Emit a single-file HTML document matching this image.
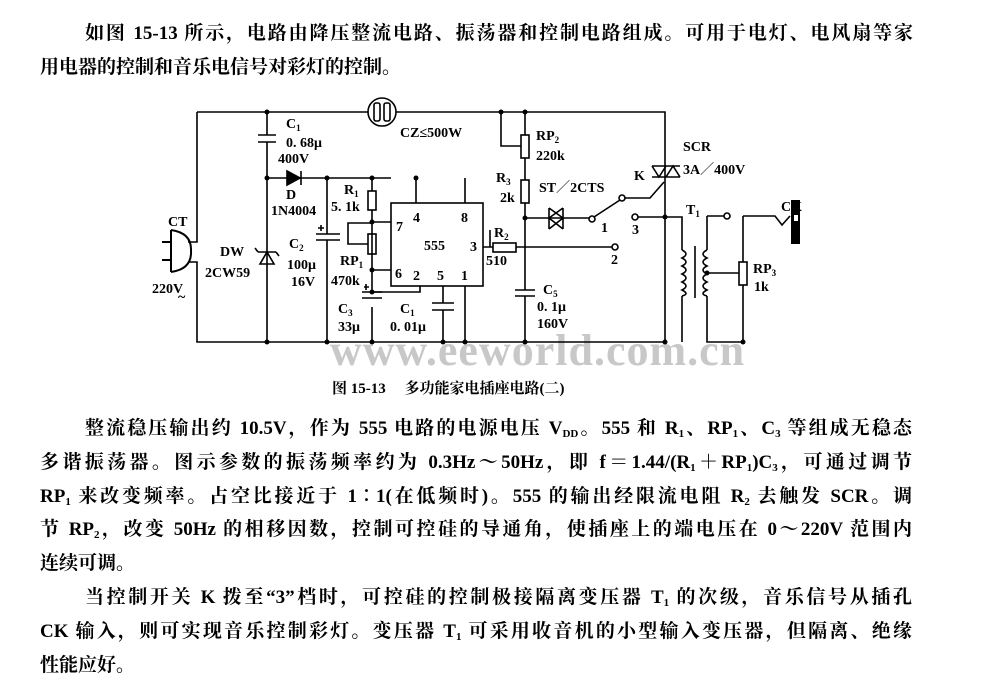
<!DOCTYPE html>
<html><head><meta charset="utf-8"><style>
html,body{margin:0;padding:0;background:#fff;width:992px;height:678px;overflow:hidden;position:relative}
.t{position:absolute;font-family:"Liberation Serif","Noto Serif CJK SC",serif;font-weight:bold;font-size:19px;color:#000;white-space:nowrap;text-align:justify;text-align-last:justify;line-height:24px}
.t sub{font-size:11px;vertical-align:-3px;line-height:0}
svg{position:absolute;left:0;top:0}
svg text{font-family:"Liberation Serif","Noto Serif CJK SC",serif;font-weight:bold;font-size:14px;fill:#000}
</style></head><body>
<div class="t" style="left:85px;top:22px;width:828px">如图 15-13 所示，电路由降压整流电路、振荡器和控制电路组成。可用于电灯、电风扇等家</div>
<div class="t" style="left:40px;top:56px;text-align-last:left">用电器的控制和音乐电信号对彩灯的控制。</div>

<svg width="992" height="678" viewBox="0 0 992 678">
<text x="330" y="365" style="font-size:44px;fill:#c8c8c8;letter-spacing:1px">www.eeworld.com.cn</text>
<g stroke="#000" stroke-width="1.6" fill="none">
<path d="M197 112 H368 M396 112 H665 V342"/>
<circle cx="382" cy="112" r="14"/>
<rect x="374" y="103" width="6" height="18" rx="2"/><rect x="384" y="103" width="6" height="18" rx="2"/>
<!-- left / CT plug -->
<path d="M197 112 V242 H188 M188 262 H197 V342 H665"/>
<path d="M171 230 V272 M171 230 Q192 233 191 251 Q192 269 171 272" stroke-width="2"/>
<path d="M162 242 H171 M162 260 H171" stroke-width="2"/>
<path d="M267 112 V135 M258 135 H276 M258 142 H276 M267 142 V342"/>
<path d="M267 178 H391"/>
<path d="M287 171 V185 L300 178 Z" fill="#000"/><path d="M301 171 V185"/>
<path d="M258 252 H276 M258 252 l-3 -4 M276 252 l3 4 M267 252 L260 264 H274 Z"/>
<path d="M327 178 V234 M316 234 H340 M316 240 H340 M327 240 V342 M318 228 h6 M321 225 v6"/>
<path d="M372 178 V191 M372 210 V292 M372 307 V342"/>
<rect x="368" y="191" width="8" height="19"/>
<rect x="368" y="234" width="8" height="20"/>
<path d="M372 222 H391 M372 270 H391 M372 292 H420 V286"/>
<path d="M368 244 H348 V223 H372"/>
<path d="M362 292 H382 M362 298 H382 M364 287 h5 M366 284 v6"/>
<path d="M416 178 V203 M465 178 V203"/>
<rect x="391" y="203" width="92" height="83"/>
<path d="M443 286 V303 M432 303 H454 M432 310 H454 M443 310 V342 M465 286 V342"/>
<path d="M483 247 H493 M516 247 H612"/>
<rect x="493" y="243" width="23" height="9"/>
<path d="M490 247 V230" />
<path d="M501 112 V146 H521 M525 112 V135 M525 158 V180 M525 203 V290 M525 296 V342"/>
<rect x="521" y="135" width="8" height="23"/>
<rect x="521" y="180" width="8" height="23"/>
<path d="M515 290 H535 M515 296 H535"/>
<path d="M525 218 H589"/>
<path d="M549 208 V229 M549 208 L563 218 L549 229 M563 208 V229 M563 208 L549 218 L563 229" />
<circle cx="592" cy="219" r="3"/><circle cx="615" cy="247" r="3"/><circle cx="635" cy="217" r="3"/><circle cx="622" cy="198" r="3"/>
<path d="M594 217 L620 200 M625 198 H650 L664 182"/>
<path d="M638 217 H682 V250 M682 296 V342"/>
<path d="M682 250 q8 4 0 8 q8 4 0 8 q8 4 0 8 q8 4 0 8 q8 4 0 8 q8 4 0 6"/>
<path d="M695 246 V298"/>
<path d="M707 216 H724 M707 216 V250 M707 296 V342 H743"/>
<path d="M707 250 q-8 4 0 8 q-8 4 0 8 q-8 4 0 8 q-8 4 0 8 q-8 4 0 8 q-8 4 0 6"/>
<circle cx="727" cy="216" r="3"/>
<path d="M707 273 H739"/>
<rect x="739" y="262" width="8" height="23"/>
<path d="M743 216 V262 M743 285 V342 M743 216 H775 L782 225 L790 216"/>
<path d="M652 166 H680 M652 177 H680 M652 166 L659 177 L666 166 M666 177 L673 166 L680 177"/>
</g>
<rect x="791" y="200" width="9" height="44" fill="#000"/><rect x="794" y="215" width="4" height="6" fill="#fff"/>
<g fill="#000">
<circle cx="267" cy="112" r="2.5"/><circle cx="267" cy="178" r="2.5"/><circle cx="327" cy="178" r="2.5"/><circle cx="372" cy="178" r="2.5"/><circle cx="416" cy="178" r="2.5"/>
<circle cx="372" cy="222" r="2.5"/><circle cx="372" cy="270" r="2.5"/><circle cx="372" cy="292" r="2.5"/>
<circle cx="267" cy="342" r="2.5"/><circle cx="327" cy="342" r="2.5"/><circle cx="372" cy="342" r="2.5"/><circle cx="443" cy="342" r="2.5"/><circle cx="465" cy="342" r="2.5"/>
<circle cx="501" cy="112" r="2.5"/><circle cx="525" cy="112" r="2.5"/><circle cx="525" cy="218" r="2.5"/><circle cx="525" cy="342" r="2.5"/><circle cx="665" cy="342" r="2.5"/><circle cx="665" cy="217" r="2.5"/><circle cx="707" cy="273" r="2.5"/><circle cx="743" cy="342" r="2.5"/>
</g>
<text x="286" y="128">C<tspan font-size="9" dy="3">1</tspan></text>
<text x="286" y="147">0. 68μ</text>
<text x="278" y="163">400V</text>
<text x="400" y="137">CZ≤500W</text>
<text x="286" y="199">D</text>
<text x="271" y="215">1N4004</text>
<text x="168" y="226">CT</text>
<text x="220" y="256">DW</text>
<text x="205" y="277">2CW59</text>
<text x="152" y="293">220V</text><text x="178" y="301">~</text>
<text x="289" y="248">C<tspan font-size="9" dy="3">2</tspan></text>
<text x="287" y="269">100μ</text>
<text x="291" y="286">16V</text>
<text x="344" y="194">R<tspan font-size="9" dy="3">1</tspan></text>
<text x="331" y="211">5. 1k</text>
<text x="340" y="265">RP<tspan font-size="9" dy="3">1</tspan></text>
<text x="331" y="285">470k</text>
<text x="338" y="313">C<tspan font-size="9" dy="3">3</tspan></text>
<text x="338" y="331">33μ</text>
<text x="400" y="313">C<tspan font-size="9" dy="3">1</tspan></text>
<text x="390" y="331">0. 01μ</text>
<text x="396" y="231">7</text><text x="413" y="222">4</text><text x="461" y="222">8</text>
<text x="424" y="250">555</text><text x="470" y="251">3</text>
<text x="395" y="278">6</text><text x="413" y="280">2</text><text x="437" y="280">5</text><text x="461" y="280">1</text>
<text x="536" y="140">RP<tspan font-size="9" dy="3">2</tspan></text>
<text x="536" y="160">220k</text>
<text x="496" y="182">R<tspan font-size="9" dy="3">3</tspan></text>
<text x="500" y="202">2k</text>
<text x="539" y="192">ST／2CTS</text>
<text x="634" y="180">K</text>
<text x="683" y="151">SCR</text>
<text x="683" y="174">3A／400V</text>
<text x="494" y="237">R<tspan font-size="9" dy="3">2</tspan></text>
<text x="486" y="265">510</text>
<text x="601" y="232">1</text><text x="611" y="264">2</text><text x="632" y="234">3</text>
<text x="543" y="294">C<tspan font-size="9" dy="3">5</tspan></text>
<text x="537" y="311">0. 1μ</text>
<text x="537" y="328">160V</text>
<text x="686" y="214">T<tspan font-size="9" dy="3">1</tspan></text>
<text x="781" y="211">CK</text>
<text x="753" y="273">RP<tspan font-size="9" dy="3">3</tspan></text>
<text x="754" y="291">1k</text>
<text x="332" y="393" style="font-size:15px">图 15-13　 多功能家电插座电路(二)</text>
</svg>

<div class="t" style="left:85px;top:417px;width:827px">整流稳压输出约 10.5V，作为 555 电路的电源电压 V<sub>DD</sub>。555 和 R<sub>1</sub>、RP<sub>1</sub>、C<sub>3</sub> 等组成无稳态</div>
<div class="t" style="left:40px;top:451px;width:872px">多谐振荡器。图示参数的振荡频率约为 0.3Hz～50Hz，即 f＝1.44/(R<sub>1</sub>＋RP<sub>1</sub>)C<sub>3</sub>，可通过调节</div>
<div class="t" style="left:40px;top:485px;width:872px">RP<sub>1</sub> 来改变频率。占空比接近于 1∶1(在低频时)。555 的输出经限流电阻 R<sub>2</sub> 去触发 SCR。调</div>
<div class="t" style="left:40px;top:518px;width:872px">节 RP<sub>2</sub>，改变 50Hz 的相移因数，控制可控硅的导通角，使插座上的端电压在 0～220V 范围内</div>
<div class="t" style="left:40px;top:552px;text-align-last:left">连续可调。</div>
<div class="t" style="left:85px;top:586px;width:827px">当控制开关 K 拨至“3”档时，可控硅的控制极接隔离变压器 T<sub>1</sub> 的次级，音乐信号从插孔</div>
<div class="t" style="left:40px;top:620px;width:872px">CK 输入，则可实现音乐控制彩灯。变压器 T<sub>1</sub> 可采用收音机的小型输入变压器，但隔离、绝缘</div>
<div class="t" style="left:40px;top:654px;text-align-last:left">性能应好。</div>
</body></html>
